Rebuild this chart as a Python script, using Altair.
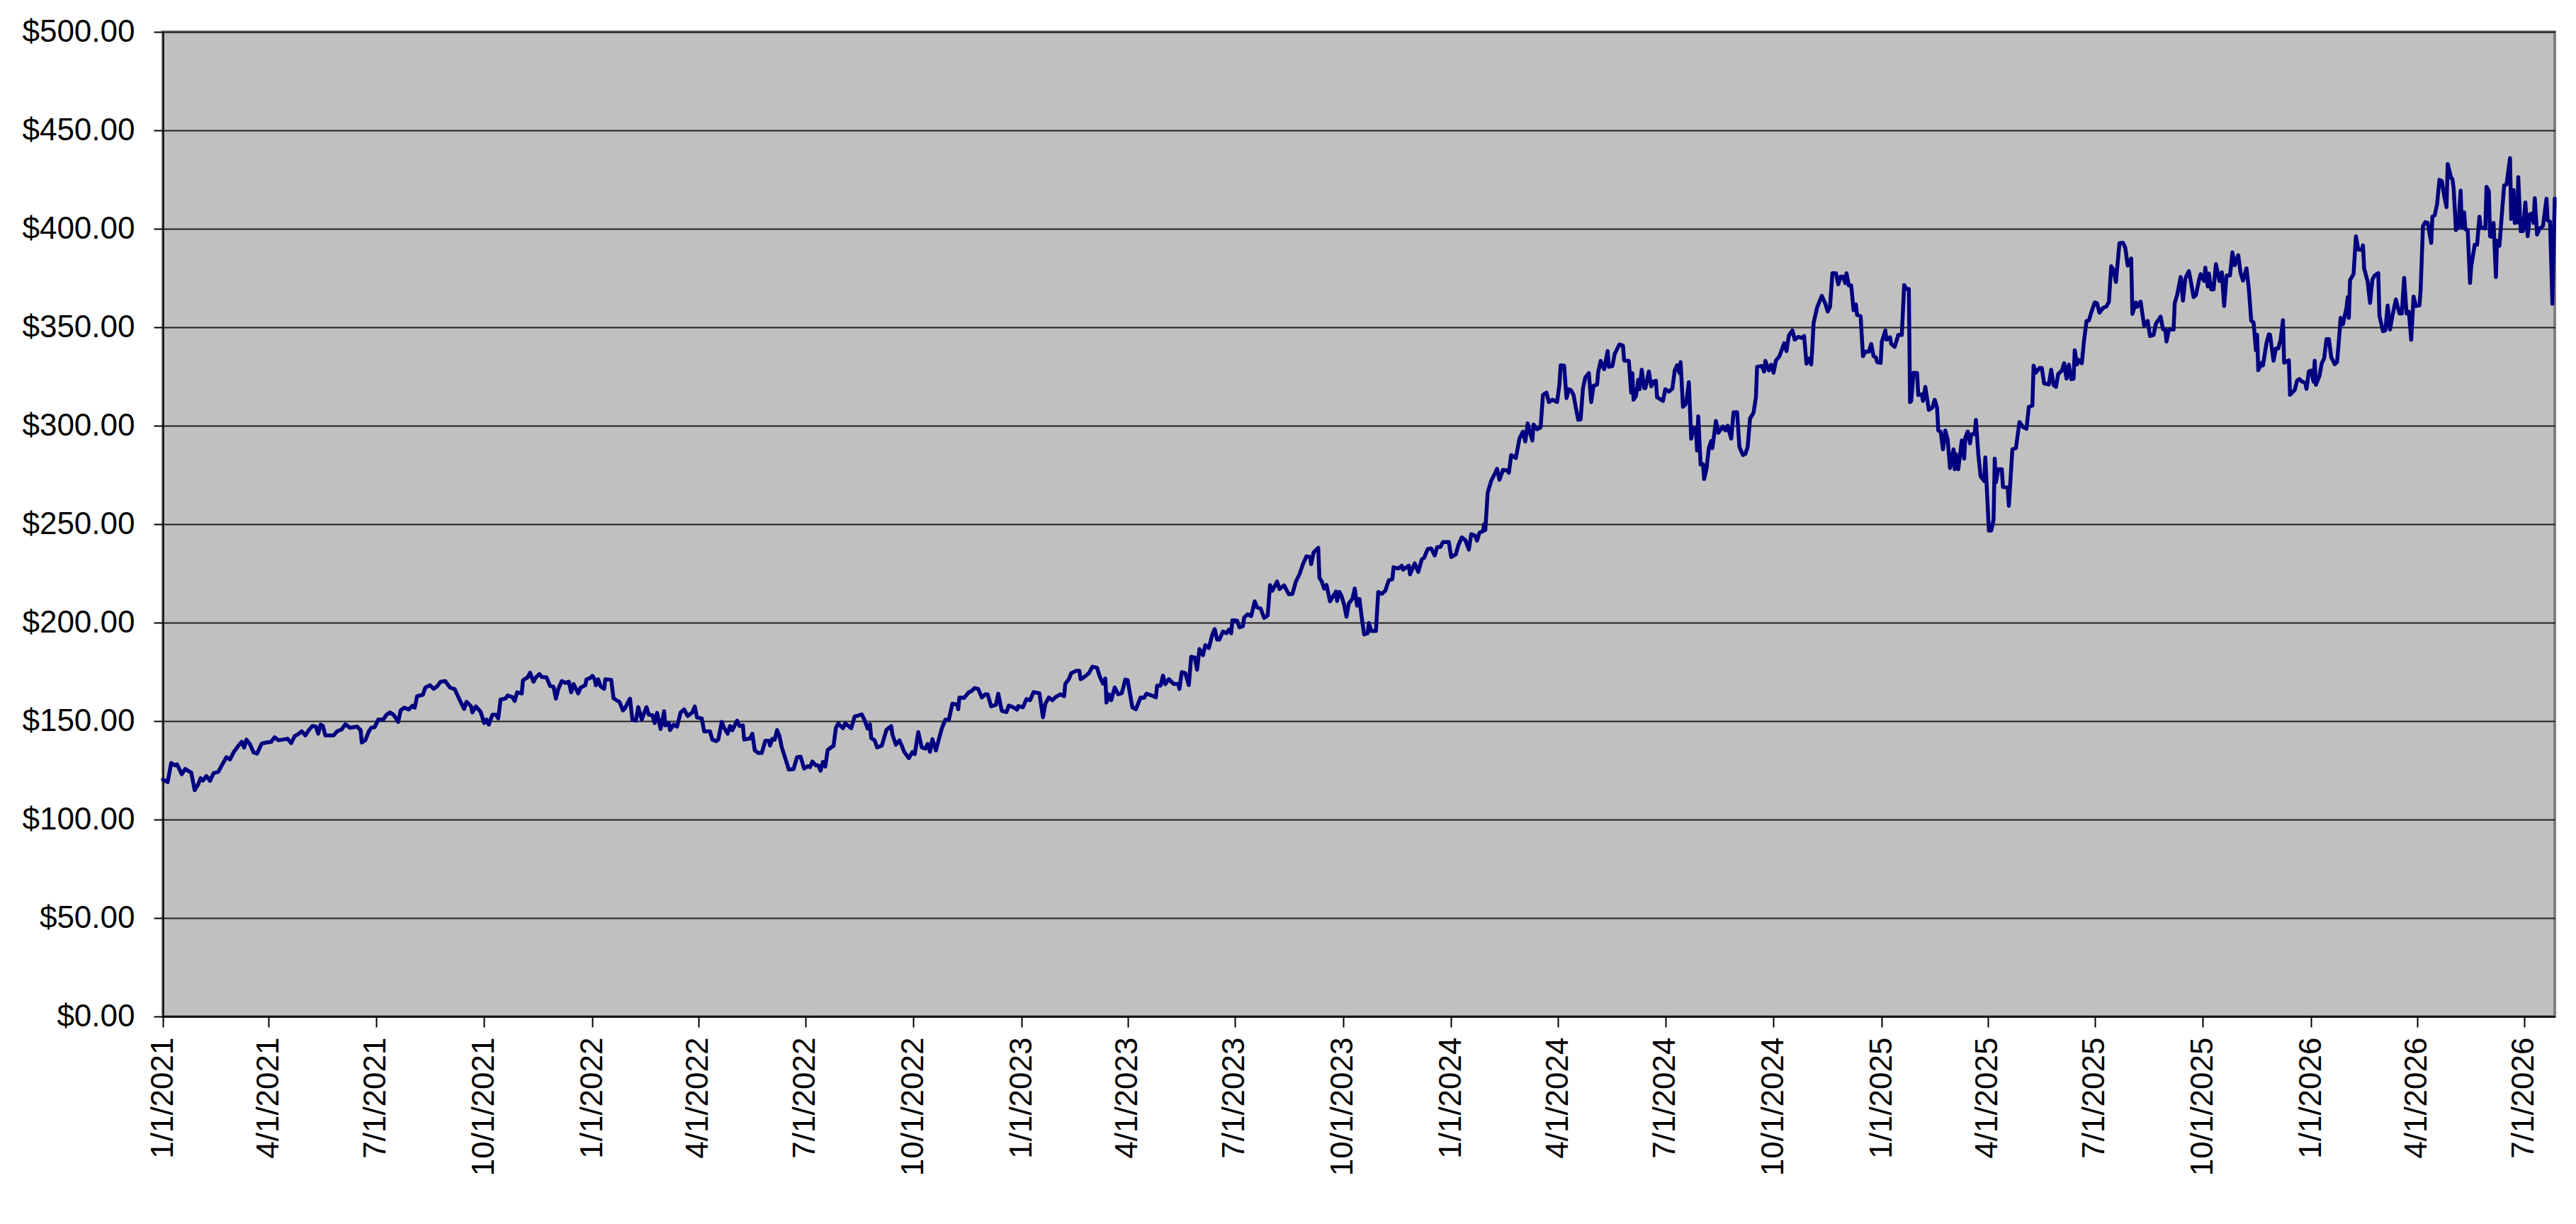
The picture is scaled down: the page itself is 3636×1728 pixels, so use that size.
import altair as alt
import pandas as pd

# ---- data (day offset from 1/1/2021, closing price) ----
days_2021 = [0,4,7,10,12,16,19,22,24,27,30,32,34,37,40,43,47,50,54,57,60,64,67,69,71,74,77,80,84,88,
             92,95,98,102,106,109,112,115,118,121,124,127,130,132,134,136,138,145,148,152,155,159,165,168,169,172,175,177,180,183,
             187,190,193,196,200,202,205,209,212,214,216,221,223,227,230,233,236,240,244,248,252,256,258,262,263,266,270,273,275,277,
             280,283,285,287,291,293,297,299,301,305,306,308,310,312,315,317,320,322,326,329,332,334,336,339,342,345,347,349,353,355,
             359,360,363]
price_2021 = [120.3,119.0,128.7,127.5,128.0,123.0,125.7,124.5,123.9,114.9,117.9,121.0,119.8,122.1,119.7,123.5,124.2,127.5,131.7,130.5,
              134.1,137.4,139.5,136.5,140.6,138.2,134.1,133.5,138.6,139.1,139.5,141.8,140.3,140.6,141.0,138.8,142.4,143.4,144.8,142.7,
              145.4,147.5,147.2,143.6,148.2,147.5,142.7,142.7,144.8,145.8,148.4,146.6,147.2,145.4,139.1,140.3,144.8,146.6,146.9,150.8,
              150.6,153.2,154.4,153.2,149.6,155.4,156.8,155.9,157.8,156.8,162.6,163.4,167.0,168.2,166.4,167.6,170.0,170.3,167.0,166.2,
              161.0,156.2,159.8,157.4,154.4,157.4,154.7,149.0,150.8,148.2,153.2,153.2,151.4,161.0,161.4,163.0,162.2,160.2,164.6,164.0,
              170.6,171.5,172.2,174.6,170.0,172.2,173.9,172.4,172.2,167.9,167.4,161.4,166.2,170.3,169.4,170.0,164.6,168.8,164.0,167.0,
              168.2,171.2,171.8]

days_2022 = [365,367,368,370,372,375,376,381,383,386,388,391,393,395,397,399,402,404,407,411,
             413,416,418,420,423,426,427,430,431,434,437,440,443,446,450,452,454,458,460,465,
             467,470,472,475,477,480,482,484,488,490,493,494,499,501,503,506,509,512,515,516,
             518,520,522,524,526,529,532,536,539,542,545,548,550,552,555,557,559,561,563,565,
             568,570,572,
             574,578,580,585,588,591,594,596,599,601,602,605,607,611,615,619,620,623,626,628,
             630,634,637,639,642,645,648,650,652,654,657,659,662,665,668,671,675,676,677,681,
             685,687,690,693,696,699,701,704,708,710,713,717,719,722,726,727]
price_2022 = [173.0,171.2,168.2,171.2,167.6,166.4,171.2,171.0,161.6,160.4,159.8,155.4,156.8,159.2,161.4,150.8,150.2,157.1,150.8,157.1,
              153.2,153.0,149.0,154.2,146.0,155.0,147.8,149.0,145.4,148.2,147.2,154.4,155.9,152.6,154.4,157.4,151.8,151.4,144.8,144.8,
              140.6,139.8,140.6,149.6,146.6,143.6,147.5,145.4,150.2,147.5,147.8,140.6,141.2,143.6,135.2,133.8,133.8,140.0,140.0,137.6,
              141.0,140.6,145.4,142.4,136.7,131.1,125.4,125.6,131.7,131.9,125.9,127.1,126.6,129.5,127.5,127.5,124.8,129.3,126.9,135.3,
              136.7,137.4,146.6,
              148.8,146.4,148.8,146.4,152.4,152.8,153.4,151.0,146.2,148.3,141.4,140.2,136.6,137.5,145.6,147.4,143.2,138.0,140.2,137.5,
              134.4,131.2,134.2,133.2,144.4,136.6,136.0,138.4,134.4,140.8,135.1,139.6,146.2,150.7,150.7,158.8,158.4,156.0,162.0,161.8,
              164.7,165.1,166.8,166.3,162.0,163.6,163.6,157.5,158.2,163.9,155.2,154.6,157.9,157.2,155.8,157.6]

days_2023 = [731,734,737,740,745,748,750,753,756,759,763,766,767,770,772,776,779,780,783,787,
             790,794,796,799,801,802,804,806,809,812,815,818,820,824,827,831,834,836,841,844,
             845,848,850,852,855,
             859,863,864,866,869,872,874,877,879,881,884,886,889,892,894,896,898,901,904,906,
             908,909,913,915,918,919,922,925,928,930,933,936,939,941,943,947,949,953,957,960,
             963,966,969,972,975,976,978,982,983,985,987,989,992,995,997,998,1000,1002,1004,1006,
             1008,1011,1013,1015,1017,1019,1021,1024,1025,1027,1031,1033,1036,1039,1042,1045,1046,1050,1053,1054,
             1059,1060,1064,1067,1070,1072,1075,1078,1081,1083,1086,1088,1093]
price_2023 = [157.0,161.2,160.6,164.7,164.1,151.9,158.8,162.0,160.6,162.3,163.6,162.7,168.9,171.3,174.3,175.5,175.5,171.3,172.3,174.3,
              177.6,177.1,173.1,169.0,171.6,159.4,163.6,160.6,167.1,163.6,164.2,171.1,170.7,157.0,156.0,162.0,161.8,163.9,162.9,162.0,
              168.0,168.0,173.1,168.7,171.3,
              168.9,168.9,166.3,174.9,174.3,168.3,182.7,182.3,176.1,186.6,183.5,188.6,187.1,194.0,196.7,191.4,191.4,195.5,194.6,196.4,
              194.6,201.2,201.0,197.6,198.2,202.6,204.2,203.3,210.8,207.8,207.2,202.4,203.6,219.1,216.2,220.9,217.0,218.9,214.4,214.6,
              220.9,224.5,229.7,233.7,233.3,229.7,235.6,238.0,222.7,220.9,217.3,219.1,210.8,213.8,215.8,211.0,215.6,213.2,209.0,203.0,
              209.8,212.0,217.3,208.6,212.0,202.4,194.0,194.6,199.8,195.8,195.8,215.6,214.6,216.2,221.5,222.1,228.1,227.5,228.9,226.9,
              228.9,224.5,230.1,225.7,232.1,232.9,237.3,237.7,234.1,238.3,238.5,240.9,240.9]

days_2024 = [1095,1099,1101,1104,1107,1110,1112,1115,1117,1119,1122,1123,1124,1126,1129,
             1132,1134,1136,1139,1143,1144,1146,1150,1153,1156,1158,1160,1162,1164,1165,1168,1171,1173,1176,1178,
             1181,1185,1187,1188,1191,1193,1195,1197,1199,1201,1203,1205,1207,1209,1212,1214,1216,1219,1220,1222,
             1225,1228,1229,1232,1234,1236,1238,1241,1242,1246,1248,1249,1250,1252,1254,1255,1257,1259,1260,1263,
             1265,1267,1269,1270,1275,1277,1280,1283,1285,1287,1289,1290,1292,1294,1295,1297,1299,1301,1303,1304,
             1305,1307,1309,1310,1312,1314,1316,1317,1320,1322,1326,1328,1330,1333,1335,1338,1340,1343,1345,1347,
             1349,1352,1354,1355,1359,1361,1362,1365,1367,1369,1371,1374,1376,1378,1380,1382,1385,1387,1390,1393,
             1395,1397,1399,1401,1402,1403,1406,1410,1413,
             1415,1417,1419,1422,1424,1426,1428,1430,1431,1433,1435,1437,1439,1440,1443,1445,1447,1450,1452,1454,
             1456,1457,1460]
price_2024 = [233.3,234.7,239.2,243.3,241.9,237.1,244.9,244.3,241.6,245.7,246.4,250.0,247.0,266.0,272.0,
              275.5,278.1,272.5,277.6,277.3,276.1,285.1,283.6,293.4,297.0,292.0,301.2,296.4,292.5,300.6,298.2,299.2,315.6,316.8,312.0,
              313.2,312.0,320.9,330.7,330.5,314.0,318.5,317.9,315.6,309.0,303.0,303.2,319.1,324.5,326.7,312.0,320.3,320.9,327.5,332.9,
              328.7,337.9,329.9,330.3,336.5,338.9,341.3,340.7,333.1,332.9,316.8,326.7,313.2,315.0,323.3,318.5,328.4,319.1,319.1,327.5,
              320.0,322.4,322.8,314.4,312.6,318.5,317.3,318.8,328.1,330.7,326.7,332.3,309.6,310.8,312.6,322.1,293.4,298.8,298.2,287.4,
              304.8,280.3,280.5,272.9,278.1,288.6,292.2,288.6,302.4,296.4,299.6,297.6,300.0,293.4,306.8,306.8,289.2,285.1,285.7,289.2,
              303.6,306.6,314.4,329.9,330.3,327.5,332.9,328.1,331.0,326.9,333.1,335.3,338.6,341.9,337.9,345.8,348.4,343.7,345.1,344.6,
              345.5,331.5,334.1,331.1,340.0,352.0,360.0,366.0,362.0,
              358.0,360.4,377.4,377.4,371.8,375.7,375.7,372.4,377.4,371.2,371.2,358.6,361.6,356.2,355.6,335.3,337.6,337.6,341.5,335.3,
              334.7,332.3,331.9]

days_2025 = [1461,1464,1465,1468,1469,1472,1475,1478,1480,1482,1484,1485,1486,1488,1491,1492,1495,1496,1498,1501,
             1504,1506,1508,1509,1511,1513,1515,1517,1519,1522,1523,1524,1526,1529,1531,1532,1534,1536,1537,1540,
             1541,1543,1545,1548,1549,1552,1554,1556,1557,1558,1560,1563,1564,1568,1569,1572,1575,1578,1581,1584,
             1586,1589,1590,1592,1595,1597,1599,1603,1605,1607,1609,1611,1614,1616,1618,1620,1622,1624,1625,1627,
             1628,1631,1633,1635,1637,1639,1642,1644,1646,1649,1652,1654,1656,1658,1660,1663,1666,1668,1670,1673,
             1674,1677,1678,1681,1684,1687,1689,1692,1694,1698,1700,1702,1703,
             1705,1709,1710,1712,1715,1717,1719,1722,1724,1726,1728,1731,1732,1735,1736,1738,1739,1741,1743,1745,
             1748,1750,1752,1754,1757,1759,1761,1764,1766,1768,1771,1773,1775,1777,1779,1780,1781,1784,1785,1788,
             1790,1791,1794,1796,1798,1800,1802,1803,1807,1808,1812,1814,1816,1818,1821,1822,1824]
price_2025 = [342.5,348.4,343.7,344.9,341.5,340.1,346.1,346.1,371.4,369.4,369.4,312.0,312.6,326.9,326.7,315.6,315.9,312.6,319.7,308.0,
              309.2,313.2,309.0,297.6,297.0,288.0,297.6,292.8,278.5,288.0,277.9,285.6,277.9,292.5,283.3,294.0,297.0,291.0,295.6,295.8,
              303.0,285.6,274.3,271.9,283.9,246.8,246.8,252.2,283.3,271.3,277.9,277.9,268.9,268.6,259.3,288.0,288.6,301.8,299.4,298.5,
              309.6,310.2,330.5,326.9,329.3,329.3,321.5,320.9,328.4,320.7,319.7,326.3,327.9,331.7,323.9,331.0,323.6,323.9,338.3,331.1,
              333.5,331.7,343.7,353.2,353.4,357.4,362.6,362.2,357.4,359.8,360.6,362.8,381.0,379.0,373.0,392.7,392.9,390.3,381.3,384.9,
              356.8,362.6,360.4,363.0,350.8,353.2,345.5,346.1,351.8,355.4,349.0,348.6,342.7,
              348.8,348.8,362.3,366.3,375.5,363.5,374.9,378.5,372.3,365.3,366.3,374.9,377.0,373.5,380.3,370.7,377.3,369.2,369.2,382.1,
              373.5,377.9,360.8,376.3,376.3,388.0,381.5,386.6,377.5,373.7,379.9,369.5,353.4,352.4,338.4,346.2,328.2,332.0,330.6,342.0,
              346.4,346.2,333.0,339.2,339.2,343.8,353.6,332.0,333.2,315.7,318.1,322.9,323.7,322.5,321.7,318.7,327.6]

days_2026 = [1826,1828,1829,1830,1833,1835,1837,1839,1841,1843,1846,1848,1850,1851,1853,1856,1857,1858,1859,1862,
             1864,1866,1869,1870,1871,1874,1876,1878,1880,1883,1884,1887,1889,1891,1893,1895,1898,1901,1903,1905,
             1907,1909,1911,1913,1915,1918,1919,1921,1923,1925,1928,1929,1931,1933,1935,1937,1939,1941,1942,1945,
             1946,1947,1948,1949,1951,1953,1954,1956,1957,1959,1961,1962,1965,1967,1969,1970,1974,1975,1977,1978,
             1979,1981,1983,1984,1986,1988,1990,1992,1995,1996,1998,1999,2001,2002,2004,2006,2008,2010,2012,2014,
             2015,2016,2018,2020,2023,2026,2027,2029,2031,2033]
price_2026 = [328.0,322.3,333.0,320.8,325.3,331.8,334.2,344.0,344.0,334.8,331.2,332.4,346.8,354.8,351.6,359.9,365.3,354.8,373.9,377.0,
              396.2,389.5,389.3,391.6,379.9,373.1,362.3,374.3,376.3,377.5,355.8,348.0,348.4,361.1,348.8,355.8,364.1,357.0,357.0,375.1,
              357.0,357.9,343.6,365.6,360.8,361.1,368.9,401.4,403.4,403.0,392.8,406.2,406.9,412.6,424.9,424.2,416.8,411.0,432.9,425.7,
              425.3,420.9,410.8,399.4,401.2,419.4,400.6,408.4,399.8,399.4,372.5,380.9,391.9,391.9,406.2,400.6,400.2,421.3,419.1,396.2,
              396.0,403.0,375.5,394.0,391.4,407.0,422.1,422.5,435.9,405.0,419.7,403.0,403.2,426.3,398.8,398.8,413.4,396.2,407.4,407.8,
              403.0,415.6,397.0,400.0,401.4,415.3,404.2,403.6,362.0,415.3]

# ---- axis ticks ----
TICK_DATES = ["2021-01-01", "2021-04-01", "2021-07-01", "2021-10-01",
              "2022-01-01", "2022-04-01", "2022-07-01", "2022-10-01",
              "2023-01-01", "2023-04-01", "2023-07-01", "2023-10-01",
              "2024-01-01", "2024-04-01", "2024-07-01", "2024-10-01",
              "2025-01-01", "2025-04-01", "2025-07-01", "2025-10-01",
              "2026-01-01", "2026-04-01", "2026-07-01"]
Y_TICKS = [0, 50, 100, 150, 200, 250, 300, 350, 400, 450, 500]
X_START = "2021-01-01"
X_END = "2026-07-27"

FONT = "Liberation Sans"

all_days = days_2021 + days_2022 + days_2023 + days_2024 + days_2025 + days_2026
all_prices = price_2021 + price_2022 + price_2023 + price_2024 + price_2025 + price_2026
assert len(all_days) == len(all_prices)

dates = (pd.Timestamp(X_START) + pd.to_timedelta(all_days, unit="D")).strftime("%Y-%m-%d").tolist()
df = pd.DataFrame({"date": dates, "price": all_prices})


def to_ms(s):
    return int(pd.Timestamp(s, tz="UTC").value // 1_000_000)


x_enc = alt.X(
    "date:T",
    title=None,
    scale=alt.Scale(type="utc", domain=[to_ms(X_START), to_ms(X_END)], nice=False),
    axis=alt.Axis(
        values=[to_ms(d) for d in TICK_DATES],
        labelExpr="utcFormat(datum.value, '%-m/%-d/%Y')",
        labelAngle=270,
        labelAlign="right",
        labelBaseline="middle",
        labelFont=FONT,
        labelFontSize=44,
        labelColor="#000000",
        labelPadding=14,
        labelLimit=0,
        labelOverlap=False,
        labelFlush=False,
        tickSize=15,
        tickWidth=2,
        tickColor="#000000",
        domainColor="#000000",
        domainWidth=2,
        grid=False,
    ),
)

y_enc = alt.Y(
    "price:Q",
    title=None,
    scale=alt.Scale(domain=[0, 500], nice=False),
    axis=alt.Axis(
        values=Y_TICKS,
        format="$.2f",
        labelFont=FONT,
        labelFontSize=44,
        labelColor="#000000",
        labelPadding=27,
        labelLimit=0,
        tickSize=13,
        tickWidth=2,
        tickColor="#000000",
        domainColor="#000000",
        domainWidth=2,
        grid=True,
        gridColor="#202020",
        gridWidth=2,
    ),
)

chart = (
    alt.Chart(df)
    .mark_line(color="#000080", strokeWidth=5.5, strokeJoin="round", strokeCap="round")
    .encode(x=x_enc, y=y_enc)
    .properties(
        width=3376,
        height=1390,
        autosize=alt.AutoSizeParams(type="none"),
        padding={"left": 222, "top": 37, "right": 20, "bottom": 270},
        background="#FFFFFF",
    )
    .configure_view(fill="#C0C0C0", stroke="#808080", strokeWidth=4)
)

chart.save("out.html", embed_options={"renderer": "svg", "actions": False})
